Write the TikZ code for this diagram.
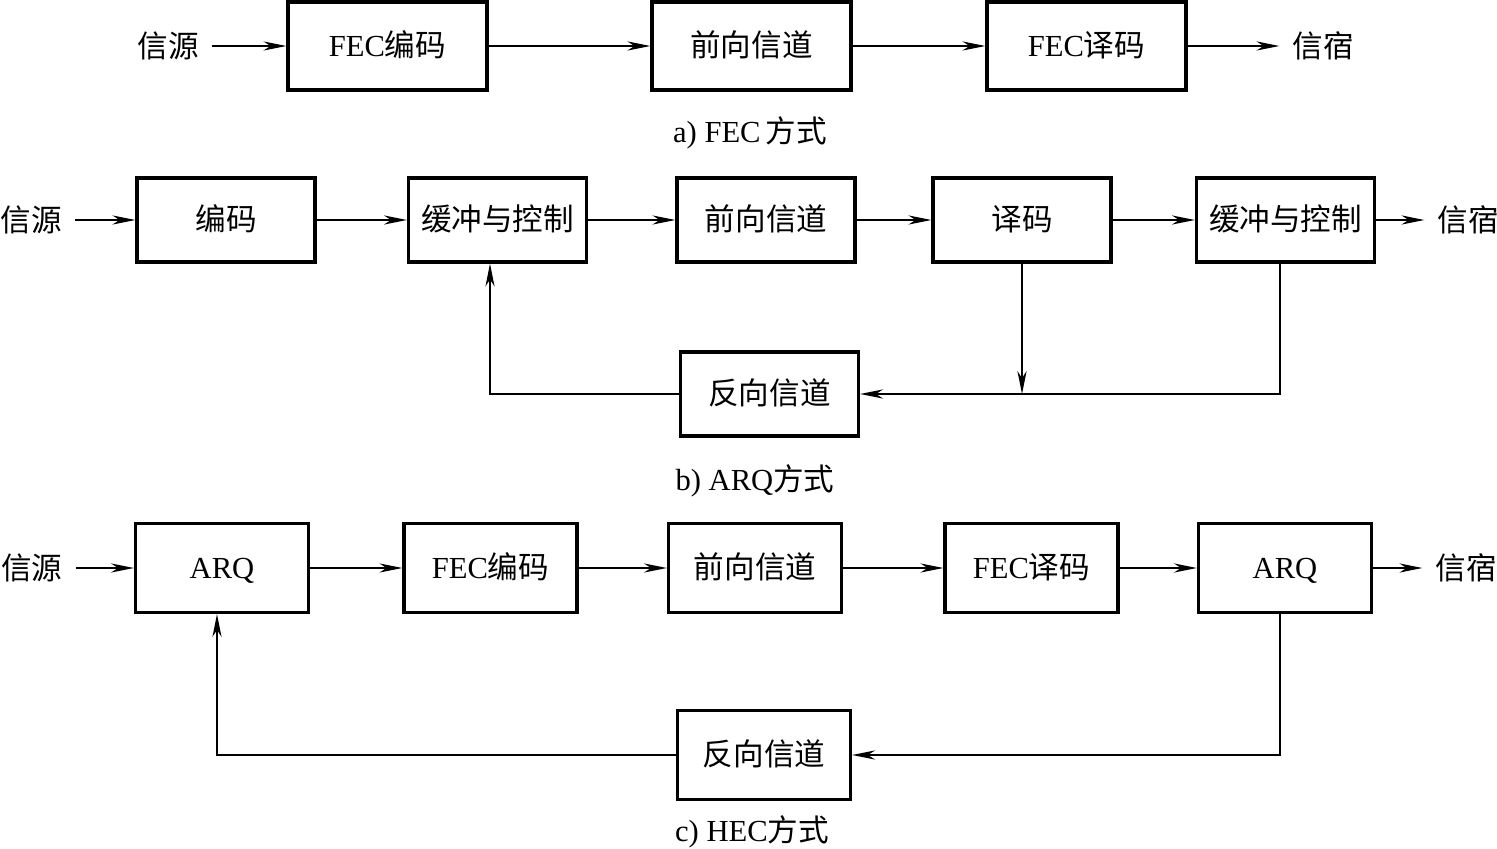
\documentclass[tikz,border=0pt]{standalone}
\usepackage{fontspec}
\setmainfont{Liberation Serif}
\newfontfamily\cjk{Noto Sans CJK SC}
\usetikzlibrary{positioning,arrows.meta}
\newcommand{\fs}{\fontsize{8.7}{10}\selectfont}
\newcommand{\zh}[1]{{\cjk #1}}
\tikzset{
  blk/.style={draw,line width=0.9pt,inner sep=0pt,font=\fs,text height=7.4pt,text depth=1.6pt},
  blkA/.style={blk,minimum width=1.99cm,minimum height=0.88cm},
  blkB/.style={blk,minimum width=1.78cm,minimum height=0.84cm},
  blkC/.style={blk,minimum width=1.73cm,minimum height=0.89cm},
  lbl/.style={font=\fs,inner sep=3.5pt},
  capt/.style={font=\fs,inner sep=0pt},
  lnk/.style={line width=0.5pt,-{Stealth[length=6.5pt,width=2.6pt,inset=2pt]}},
  wire/.style={line width=0.5pt},
}
\newcommand{\fec}[1]{FEC\zh{#1}}

\begin{document}
\begin{tikzpicture}[x=0.01cm,y=-0.01cm]
  \useasboundingbox (0,0) rectangle (1497,849);
  % a) FEC
  \node[lbl] (srcA) at (168,46) {\zh{信源}};
  \node[blkA] (fa1) at (387.5,46) {\fec{编码}};
  \node[blkA] (fa2) at (751.5,46) {\zh{前向信道}};
  \node[blkA] (fa3) at (1086.5,46) {\fec{译码}};
  \node[lbl] (dstA) at (1323,46) {\zh{信宿}};
  \node[capt] (capA) at (750,133) {a) FEC\,\zh{方式}};
  \foreach \a/\b in {srcA/fa1,fa1/fa2,fa2/fa3,fa3/dstA}
    \draw[lnk] (\a) -- (\b);
  % b) ARQ
  \node[lbl] (srcB) at (31,220) {\zh{信源}};
  \node[blkB] (fb1) at (226,220) {\zh{编码}};
  \node[blkB] (fb2) at (497.5,220) {\zh{缓冲与控制}};
  \node[blkB] (fb3) at (766,220) {\zh{前向信道}};
  \node[blkB] (fb4) at (1022,220) {\zh{译码}};
  \node[blkB] (fb5) at (1285.5,220) {\zh{缓冲与控制}};
  \node[lbl] (dstB) at (1468,220) {\zh{信宿}};
  \node[blkB] (rb) at (769.5,394) {\zh{反向信道}};
  \node[capt] (capB) at (755,481) {b) ARQ\zh{方式}};
  \foreach \a/\b in {srcB/fb1,fb1/fb2,fb2/fb3,fb3/fb4,fb4/fb5,fb5/dstB}
    \draw[lnk] (\a) -- (\b);
  \coordinate (ob) at ([xshift=-0.055cm]fb5.south);
  \coordinate (ib) at ([xshift=-0.075cm]fb2.south);
  \coordinate (jb) at (fb4.south |- rb.east);
  \draw[wire] (ob) -- (ob |- rb.east) -- (jb);
  \draw[lnk] (jb) -- (rb.east);
  \draw[lnk] (fb4.south) -- (jb);
  \draw[lnk] (rb.west) -| (ib);
  % c) HEC
  \node[lbl] (srcC) at (32,568) {\zh{信源}};
  \node[blkC] (fc1) at (222,568) {ARQ};
  \node[blkC] (fc2) at (490.5,568) {\fec{编码}};
  \node[blkC] (fc3) at (755,568) {\zh{前向信道}};
  \node[blkC] (fc4) at (1031.5,568) {\fec{译码}};
  \node[blkC] (fc5) at (1285,568) {ARQ};
  \node[lbl] (dstC) at (1466,568) {\zh{信宿}};
  \node[blkC] (rc) at (764,755) {\zh{反向信道}};
  \node[capt] (capC) at (752,832) {c) HEC\zh{方式}};
  \foreach \a/\b in {srcC/fc1,fc1/fc2,fc2/fc3,fc3/fc4,fc4/fc5,fc5/dstC}
    \draw[lnk] (\a) -- (\b);
  \coordinate (oc) at ([xshift=-0.05cm]fc5.south);
  \coordinate (ic) at ([xshift=-0.05cm]fc1.south);
  \draw[lnk] (oc) |- (rc.east);
  \draw[lnk] (rc.west) -| (ic);
\end{tikzpicture}
\end{document}
